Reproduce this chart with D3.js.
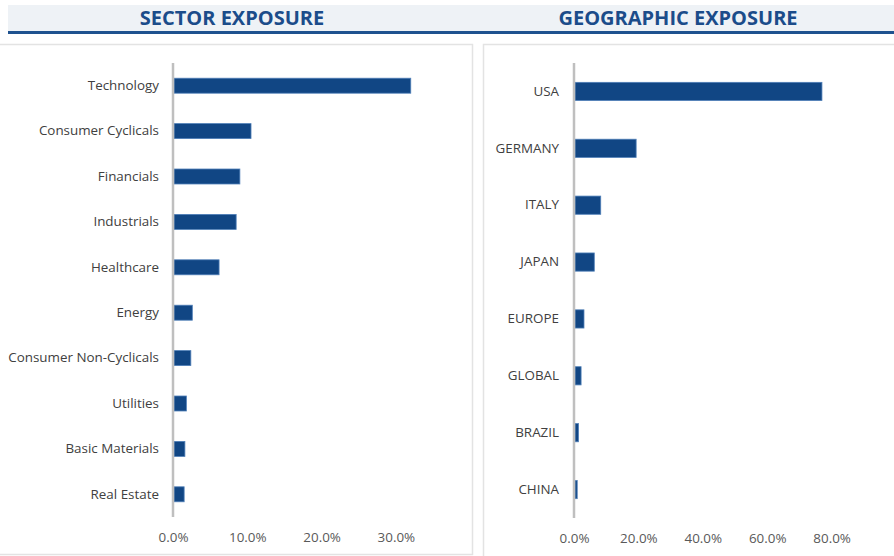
<!DOCTYPE html>
<html><head><meta charset="utf-8">
<script src="https://cdn.jsdelivr.net/npm/d3@7"></script>
<style>
body{margin:0;background:#fff;}
svg{display:block;font-family:"Open Sans",sans-serif;}
</style></head>
<body><svg id="c" width="894" height="556"></svg>
<script>
const sectorCategories = ["Technology","Consumer Cyclicals","Financials","Industrials","Healthcare","Energy","Consumer Non-Cyclicals","Utilities","Basic Materials","Real Estate"];
const sectorValues = [0.320,0.105,0.090,0.085,0.062,0.026,0.024,0.018,0.016,0.015];
const sectorTicks = [0,0.1,0.2,0.3];

const geoCategories = ["USA","GERMANY","ITALY","JAPAN","EUROPE","GLOBAL","BRAZIL","CHINA"];
const geoValues = [0.770,0.193,0.083,0.063,0.031,0.022,0.014,0.010];
const geoTicks = [0,0.2,0.4,0.6,0.8];

const svg = d3.select("#c");
const barFill = "#114684", barStroke = "#4f7fb8";

// header bands
svg.append("rect").attr("x",8).attr("y",5).attr("width",886).attr("height",27).attr("fill","#eef2f6");
svg.append("rect").attr("x",8).attr("y",31).attr("width",886).attr("height",3).attr("fill","#1f528f");
svg.append("text").attr("x",232).attr("y",25).attr("text-anchor","middle")
  .attr("font-size",20).attr("font-weight",700).attr("fill","#1b4c8a").text("SECTOR EXPOSURE");
svg.append("text").attr("x",678).attr("y",25).attr("text-anchor","middle")
  .attr("font-size",20).attr("font-weight",700).attr("fill","#1b4c8a").text("GEOGRAPHIC EXPOSURE");

// panel borders
const bc = "#e3e3e3";
svg.append("path").attr("d","M0,44.5H472.5V554.5H0").attr("fill","none").attr("stroke",bc).attr("stroke-width",1.5);
svg.append("path").attr("d","M894,44.5H483.5V556").attr("fill","none").attr("stroke",bc).attr("stroke-width",1.5);

function panel(cats, vals, ticks, x0, pxPerUnit, xMaxPx, y0, y1, labelX, barPad, tickY){
  const x = d3.scaleLinear().domain([0,(xMaxPx-x0)/pxPerUnit]).range([x0,xMaxPx]);
  const y = d3.scaleBand().domain(cats).range([y0,y1]).paddingInner(barPad).paddingOuter(barPad/2);
  const g = svg.append("g");
  g.selectAll("rect.bar").data(cats).join("rect").attr("class","bar")
    .attr("x",x(0)+1).attr("y",d=>y(d))
    .attr("width",(d,i)=>x(vals[i])-x(0)-1).attr("height",y.bandwidth())
    .attr("fill",barFill).attr("stroke",barStroke).attr("stroke-width",0.8);
  // category labels
  const ya = d3.axisLeft(y).tickSize(0).tickPadding(0);
  const yg = g.append("g").attr("transform",`translate(${labelX},0)`).call(ya);
  yg.select(".domain").remove();
  yg.selectAll("text").attr("font-size",13.4).attr("fill","#404040").attr("font-family","'Open Sans',sans-serif");
  // axis line
  g.append("line").attr("x1",x0).attr("x2",x0).attr("y1",y0).attr("y2",y1)
    .attr("stroke","#bfbfbf").attr("stroke-width",2.5);
  // tick labels
  const xa = d3.axisBottom(x).tickValues(ticks).tickSize(0).tickPadding(0).tickFormat(d3.format(".1%"));
  const xg = g.append("g").attr("transform",`translate(0,${tickY})`).call(xa);
  xg.select(".domain").remove();
  xg.selectAll("text").attr("font-size",13.4).attr("fill","#595959").attr("font-family","'Open Sans',sans-serif");
}

panel(sectorCategories, sectorValues, sectorTicks, 173, 743, 460, 63, 517, 159, 0.67, 532);
panel(geoCategories, geoValues, geoTicks, 574, 322, 880, 63, 518, 559, 0.68, 533);
</script></body></html>
